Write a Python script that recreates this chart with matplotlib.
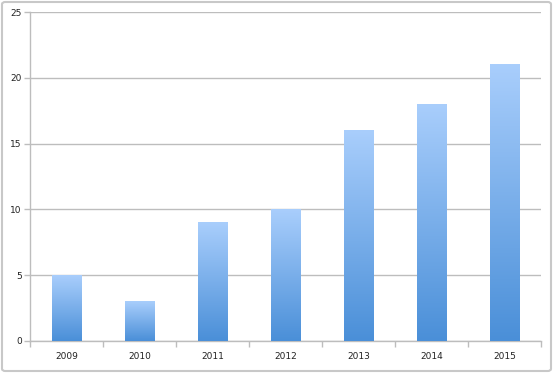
import numpy as np
import matplotlib
matplotlib.use('Agg')
import matplotlib.pyplot as plt
from matplotlib.colors import LinearSegmentedColormap
from matplotlib.patches import FancyBboxPatch

years=['2009','2010','2011','2012','2013','2014','2015']
values=[5,3,9,10,16,18,21]
yticks=[0,5,10,15,20,25]

grid_col='#bdbdbd'
cmap=LinearSegmentedColormap.from_list('bar',['#4a8fd8','#a9cefc'])

fig=plt.figure(figsize=(5.53,3.73),dpi=100)
ax=fig.add_axes([30/553.,32/373.,511/553.,329/373.])

x=np.arange(len(years))
bars=ax.bar(x,values,width=0.4,color='none',zorder=3)
grad=np.linspace(0,1,256).reshape(-1,1)
# gradient fill for each bar
for b in bars:
    ax.imshow(grad,cmap=cmap,origin='lower',aspect='auto',
              extent=[b.get_x(),b.get_x()+b.get_width(),0,b.get_height()],zorder=3)

ax.set_xlim(-0.5,len(years)-0.5)
ax.set_ylim(0,25)
ax.set_yticks(yticks)
ax.set_xticks(x)
ax.set_xticklabels(years)
ax.set_xticks(np.arange(-0.5,len(years)),minor=True)
ax.tick_params(axis='x',which='major',length=0,pad=8,labelsize=6.5,colors='#222222')
ax.tick_params(axis='x',which='minor',length=4,color=grid_col,width=1)
ax.tick_params(axis='y',length=4,color=grid_col,width=1,pad=2,labelsize=6.5,labelcolor='#222222')
ax.yaxis.grid(True,color=grid_col,linewidth=1)
ax.set_axisbelow(True)
for s in ['top','right']:
    ax.spines[s].set_visible(False)
for s in ['left','bottom']:
    ax.spines[s].set_color(grid_col)
    ax.spines[s].set_linewidth(1)

fig.patches.append(FancyBboxPatch((2/553.,2/373.),549/553.,369/373.,
    boxstyle='round,pad=0,rounding_size=0.006',transform=fig.transFigure,
    facecolor='none',edgecolor='#c8c8c8',linewidth=1.5,figure=fig))

fig.savefig('out.png',dpi=100)
